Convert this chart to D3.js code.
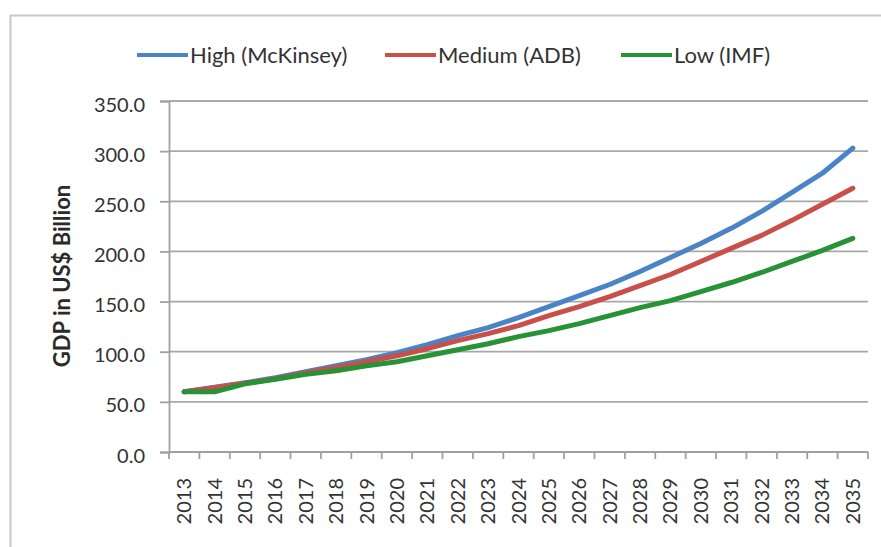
<!DOCTYPE html>
<html lang="en">
<head>
    <meta charset="UTF-8">
    <title>GDP projections</title>
    <script src="https://d3js.org/d3.v7.min.js"></script>

    <style>
        body {
            margin: 0;
            background: #fff;
            font-family: Lato, "Open Sans", sans-serif;
        }

        svg {
            display: block;
        }

        .tick text {
            fill: #333;
        }
    </style>
</head>
<body>

    <div id="container"></div>

    <script>

        // data
        const years = ['2013','2014','2015','2016','2017','2018','2019','2020','2021','2022','2023','2024',
                       '2025','2026','2027','2028','2029','2030','2031','2032','2033','2034','2035'];

        const high = [60, 64.5, 69, 74, 80, 86, 92, 99, 107, 116, 124, 134,
                      145, 156, 167, 180, 194, 208, 223, 240, 259, 278, 303];

        const medium = [60, 64, 68.5, 73, 79, 84, 90, 96, 103, 111, 118, 126,
                        136, 145, 155, 166, 177, 190, 203, 216, 231, 247, 263];

        const low = [60, 60, 68, 72.5, 77.5, 81, 86, 90, 96, 102, 108, 115,
                     121, 128, 136, 144, 151, 160, 169, 179, 190, 201, 213];

        const seriesNames = ['High (McKinsey)', 'Medium (ADB)', 'Low (IMF)'];
        const seriesColors = ['#4a84c6', '#c94f4b', '#279236'];

        const yTicks = [0, 50, 100, 150, 200, 250, 300, 350];

        const width = 881;
        const height = 547;

        // plot area
        const plotLeft = 169, plotRight = 868, plotTop = 101, plotBottom = 452;

        const svg = d3.select('#container')
            .append('svg')
            .attr('width', width)
            .attr('height', height);

        // outer frame of the chart
        svg.append('rect')
            .attr('x', 10.5)
            .attr('y', 15.5)
            .attr('width', width + 20)
            .attr('height', height + 20)
            .attr('fill', 'none')
            .attr('stroke', '#c8c8c8')
            .attr('stroke-width', 2);

        //scales
        const x = d3.scaleBand()
            .domain(years)
            .range([plotLeft, plotRight]);

        const y = d3.scaleLinear()
            .domain([0, 350])
            .range([plotBottom, plotTop]);

        // gridlines
        svg.append('g')
            .selectAll('line')
            .data(yTicks.slice(1))
            .enter()
            .append('line')
            .attr('x1', plotLeft)
            .attr('x2', plotRight)
            .attr('y1', d => y(d))
            .attr('y2', d => y(d))
            .attr('stroke', '#a8a8a8')
            .attr('stroke-width', 1.8);

        // y axis
        const yAxis = svg.append('g')
            .attr('transform', `translate(${plotLeft},0)`)
            .call(d3.axisLeft(y).tickValues(yTicks).tickFormat(d3.format('.1f')).tickSize(9).tickPadding(15));

        yAxis.selectAll('line, path').attr('stroke', '#a0a0a0').attr('stroke-width', 1.8);
        yAxis.selectAll('text')
            .attr('font-size', 20)
            .attr('font-family', 'Lato, sans-serif')
            .attr('dy', '0.5em');

        // x axis, ticks sit between categories
        const xAxis = svg.append('g')
            .attr('transform', `translate(0,${plotBottom})`);

        xAxis.append('line')
            .attr('x1', plotLeft)
            .attr('x2', plotRight)
            .attr('stroke', '#a0a0a0')
            .attr('stroke-width', 1.8);

        xAxis.selectAll('.xtick')
            .data(years.concat(['end']))
            .enter()
            .append('line')
            .attr('x1', (d, i) => plotLeft + i * x.step())
            .attr('x2', (d, i) => plotLeft + i * x.step())
            .attr('y1', 0)
            .attr('y2', 7)
            .attr('stroke', '#a0a0a0')
            .attr('stroke-width', 1.8);

        xAxis.selectAll('.xlabel')
            .data(years)
            .enter()
            .append('text')
            .attr('transform', d => `translate(${x(d) + x.bandwidth() / 2 + 7},26) rotate(-90)`)
            .attr('text-anchor', 'end')
            .attr('font-size', 20)
            .attr('fill', '#333')
            .text(d => d);

        // y axis title
        svg.append('text')
            .attr('transform', `translate(70,276) rotate(-90)`)
            .attr('text-anchor', 'middle')
            .attr('font-size', 22)
            .attr('font-weight', 'bold')
            .attr('fill', '#2a2a2a')
            .text('GDP in US$ Billion');

        // lines
        const line = d3.line()
            .x((d, i) => x(years[i]) + x.bandwidth() / 2)
            .y(d => y(d));

        const allSeries = [high, medium, low];

        svg.append('g')
            .selectAll('path')
            .data(allSeries)
            .enter()
            .append('path')
            .attr('d', d => line(d))
            .attr('fill', 'none')
            .attr('stroke', (d, i) => seriesColors[i])
            .attr('stroke-width', 5)
            .attr('stroke-linejoin', 'round')
            .attr('stroke-linecap', 'round');

        // legend
        const legendX = [137, 385, 621];

        const legend = svg.append('g')
            .selectAll('g')
            .data(seriesNames)
            .enter()
            .append('g')
            .attr('transform', (d, i) => `translate(${legendX[i]},55)`);

        legend.append('line')
            .attr('x1', 0)
            .attr('x2', 51)
            .attr('stroke', (d, i) => seriesColors[i])
            .attr('stroke-width', 4);

        legend.append('text')
            .attr('x', 53)
            .attr('y', 8)
            .attr('font-size', 22)
            .attr('fill', '#333')
            .text(d => d);

    </script>

</body>
</html>
